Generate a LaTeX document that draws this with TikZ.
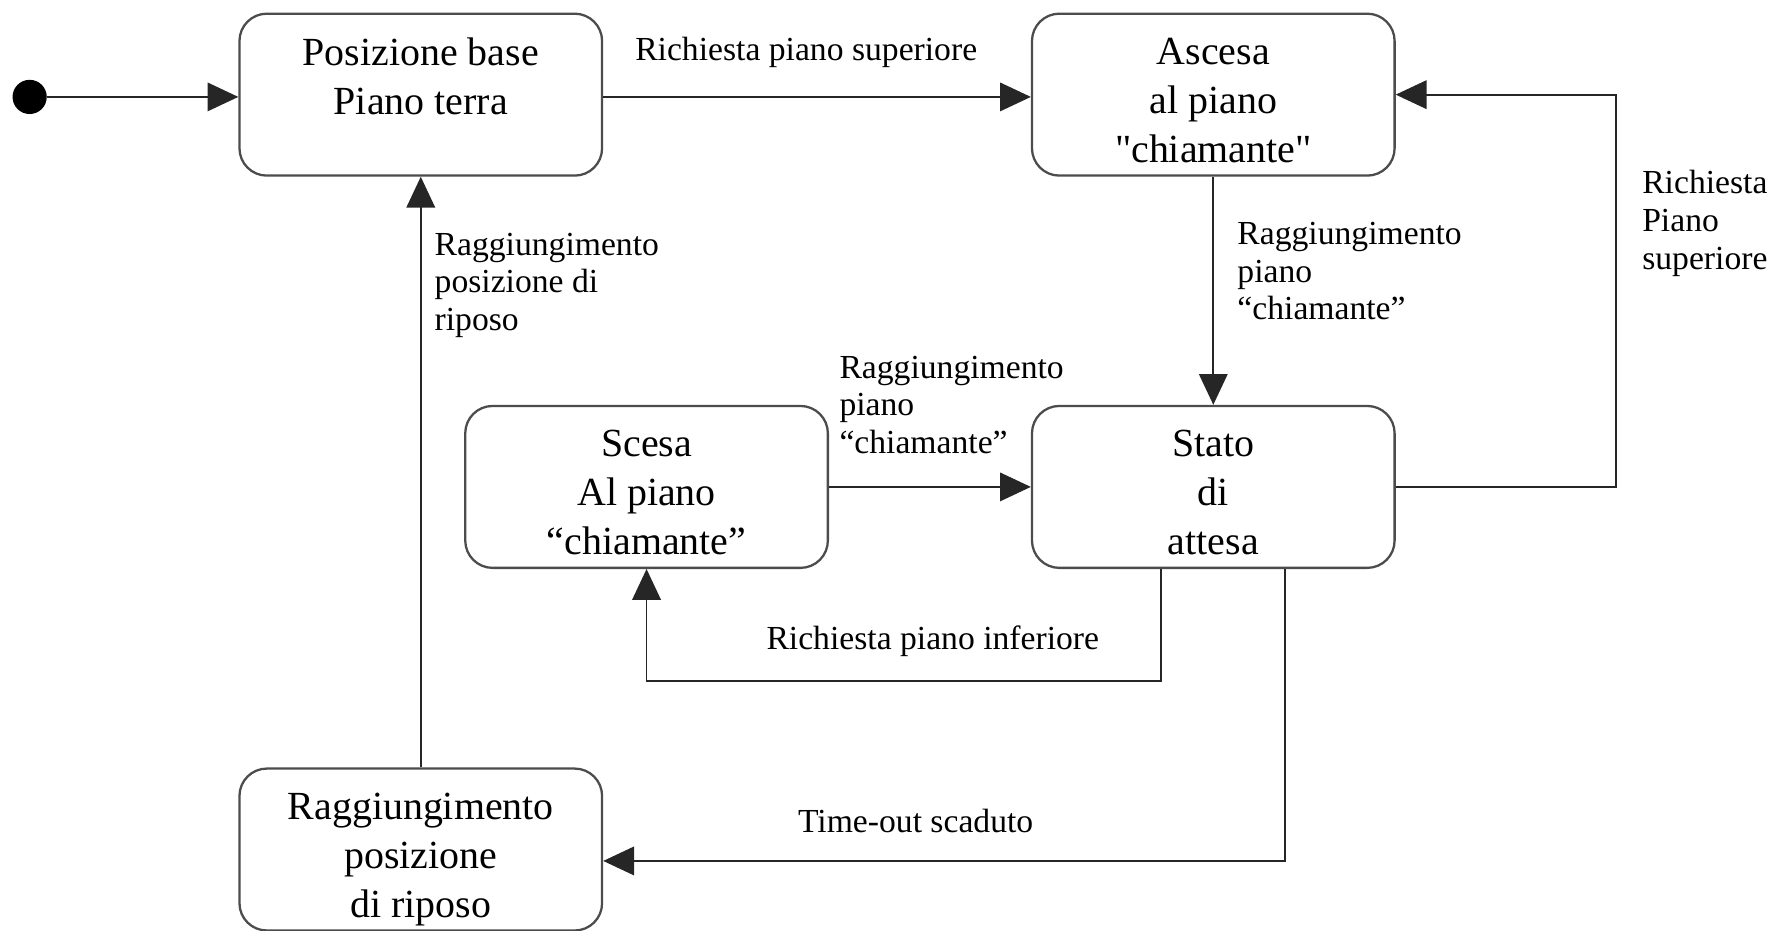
\documentclass[tikz,border=0pt]{standalone}
\usepackage{fontspec}
\setmainfont{Liberation Serif}
\usetikzlibrary{arrows.meta,calc}
% vertical struts used to nudge the text block inside a state box
\newcommand{\topgap}[1]{\rule{0pt}{#1}}
\newcommand{\botgap}[1]{\rule[-#1]{0pt}{1pt}}
\begin{document}
\begin{tikzpicture}[x=1pt,y=-1pt,
  state/.style={draw=black!70, line width=2pt, rounded corners=24pt,
    minimum width=318pt, minimum height=142pt, align=center, inner sep=0pt,
    font=\fontsize{35}{43}\selectfont},
  lbl/.style={font=\fontsize{29.5}{33}\selectfont, inner sep=0pt, align=left},
  conn/.style={line width=1.6pt, draw=black!85,
    -{Triangle[length=27pt,width=25pt]}},
]
\useasboundingbox (0,0) rectangle (1568,816);

% states
\node[state] (b1) at (369,83)  {Posizione base\\Piano terra\botgap{32pt}};
\node[state] (b2) at (1064,83) {\topgap{34pt}Ascesa\\al piano\\\textquotedbl chiamante\textquotedbl};
\node[state] (b3) at (567,427) {\topgap{33pt}Scesa\\Al piano\\“chiamante”};
\node[state] (b4) at (1064,427) {\topgap{33pt}Stato\\di\\attesa};
\node[state] (b5) at (369,745) {\topgap{40pt}Raggiungimento\\posizione\\di riposo};

% initial pseudo-state
\node[circle, fill=black, minimum size=30pt, inner sep=0pt] (init) at (26,85) {};

% transitions
\draw[conn] (init.east) -- (b1.west |- init);
\draw[conn] (b1.east |- init) -- (b2.west |- init);
\draw[conn] (b2.south) -- (b4.north);
\draw[conn] (b4.east) -| ([xshift=193pt]b2.east) -- (b2.east);
\draw[conn] (b3.east) -- (b4.west);
\draw[conn] ([xshift=-46pt]b4.south) -- ++(0,98) -| (b3.south);
\draw[conn] ([xshift=63pt]b4.south) |- ([yshift=-10pt]b5.east);
\draw[conn] (b5.north) -- (b1.south);

% transition labels
\node[lbl] (l1) at (707,46) {Richiesta piano superiore};
\node[lbl, anchor=west] (l2) at (1085,238) {Raggiungimento\\piano\\“chiamante”};
\node[lbl, anchor=west] (l3) at (1440,196) {Richiesta\\Piano\\superiore};
\node[lbl, anchor=west] (l4) at (736,355) {Raggiungimento\\piano\\“chiamante”};
\node[lbl] (l5) at (818,562) {Richiesta piano inferiore};
\node[lbl] (l6) at (803,720) {Time-out scaduto};
\node[lbl, anchor=west] (l7) at (381,250) {Raggiungimento\\posizione di\\riposo};
\end{tikzpicture}
\end{document}
